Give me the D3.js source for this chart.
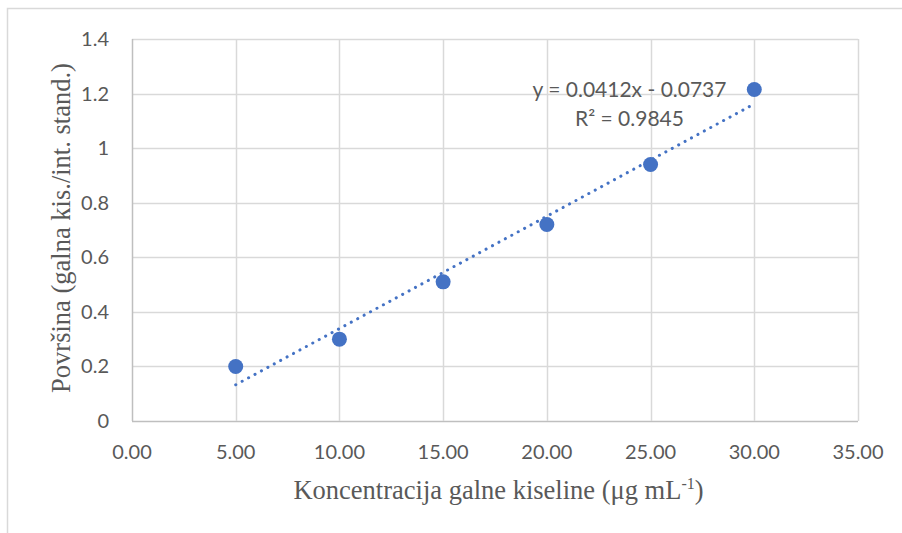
<!DOCTYPE html>
<html><head><meta charset="utf-8">
<script src="https://cdn.jsdelivr.net/npm/d3@7"></script>
<style>body{margin:0;background:#fff}svg{display:block}</style>
</head><body>
<svg id="c" width="902" height="533"></svg>
<script>
const concentrations = [5, 10, 15, 20, 25, 30];
const areaRatios = [0.20, 0.30, 0.51, 0.72, 0.94, 1.215];
const xTicks = [0, 5, 10, 15, 20, 25, 30, 35];
const yTicks = [0, 0.2, 0.4, 0.6, 0.8, 1, 1.2, 1.4];
const equationLines = ["y = 0.0412x - 0.0737", "R² = 0.9845"];

const svg = d3.select("#c");
const m = {l:132, t:39, r:858, b:421};
const x = d3.scaleLinear().domain([0,35]).range([m.l, m.r]);
const y = d3.scaleLinear().domain([0,1.4]).range([m.b, m.t]);
const tickFont = "Lato, 'Open Sans', sans-serif";
const serif = "'Liberation Serif', 'Times New Roman', serif";
const grey = "#595959";

// outer chart border (top and left visible)
svg.append("path").attr("d","M7.5,533 V8.5 H902").attr("fill","none").attr("stroke","#d9d9d9").attr("stroke-width",1.5);

// gridlines
svg.append("g").selectAll("line").data(yTicks).join("line")
  .attr("x1",m.l).attr("x2",m.r).attr("y1",d=>Math.round(y(d))+0.5).attr("y2",d=>Math.round(y(d))+0.5)
  .attr("stroke",d=>d===0?"#bfbfbf":"#d9d9d9").attr("stroke-width",1.5);
svg.append("g").selectAll("line").data(xTicks).join("line")
  .attr("y1",m.t).attr("y2",m.b).attr("x1",d=>Math.round(x(d))+0.5).attr("x2",d=>Math.round(x(d))+0.5)
  .attr("stroke",d=>d===0?"#bfbfbf":"#d9d9d9").attr("stroke-width",1.5);

// tick labels
svg.append("g").selectAll("text").data(xTicks).join("text")
  .attr("x",d=>x(d)).attr("y",459).attr("text-anchor","middle")
  .attr("font-family",tickFont).attr("font-size",20).attr("fill",grey)
  .text(d=>d3.format(".2f")(d));
svg.append("g").selectAll("text").data(yTicks).join("text")
  .attr("x",109).attr("y",d=>y(d)+7).attr("text-anchor","end")
  .attr("font-family",tickFont).attr("font-size",20).attr("fill",grey)
  .text(d=>String(d));

// trendline (least squares)
const mx = d3.mean(concentrations), my = d3.mean(areaRatios);
const slope = d3.sum(concentrations.map((c,i)=>(c-mx)*(areaRatios[i]-my))) / d3.sum(concentrations.map(c=>(c-mx)**2));
const intercept = my - slope*mx;
const x0 = d3.min(concentrations), x1 = d3.max(concentrations);
svg.append("line")
  .attr("x1",x(x0)).attr("y1",y(slope*x0+intercept))
  .attr("x2",x(x1)).attr("y2",y(slope*x1+intercept))
  .attr("stroke","#4472C4").attr("stroke-width",3).attr("stroke-linecap","round")
  .attr("stroke-dasharray","0.1 7.2");

// points
svg.append("g").selectAll("circle").data(concentrations).join("circle")
  .attr("cx",d=>x(d)).attr("cy",(d,i)=>y(areaRatios[i])).attr("r",7.5)
  .attr("fill","#4472C4");

// equation
svg.append("g").selectAll("text").data(equationLines).join("text")
  .attr("x",629.5).attr("y",(d,i)=>97+i*29).attr("text-anchor","middle")
  .attr("font-family",tickFont).attr("font-size",21).attr("fill",grey)
  .text(d=>d);

// axis titles
const xt = svg.append("text").attr("x",498.5).attr("y",499).attr("text-anchor","middle")
  .attr("font-family",serif).attr("font-size",26.5).attr("fill",grey);
xt.append("tspan").text("Koncentracija galne kiseline (μg mL");
xt.append("tspan").attr("font-size",16).attr("dy",-10).text("-1");
xt.append("tspan").attr("dy",10).text(")");

svg.append("text").attr("transform","translate(70,228) rotate(-90)").attr("text-anchor","middle")
  .attr("font-family",serif).attr("font-size",26.5).attr("fill",grey)
  .text("Površina (galna kis./int. stand.)");
</script>
</body></html>
